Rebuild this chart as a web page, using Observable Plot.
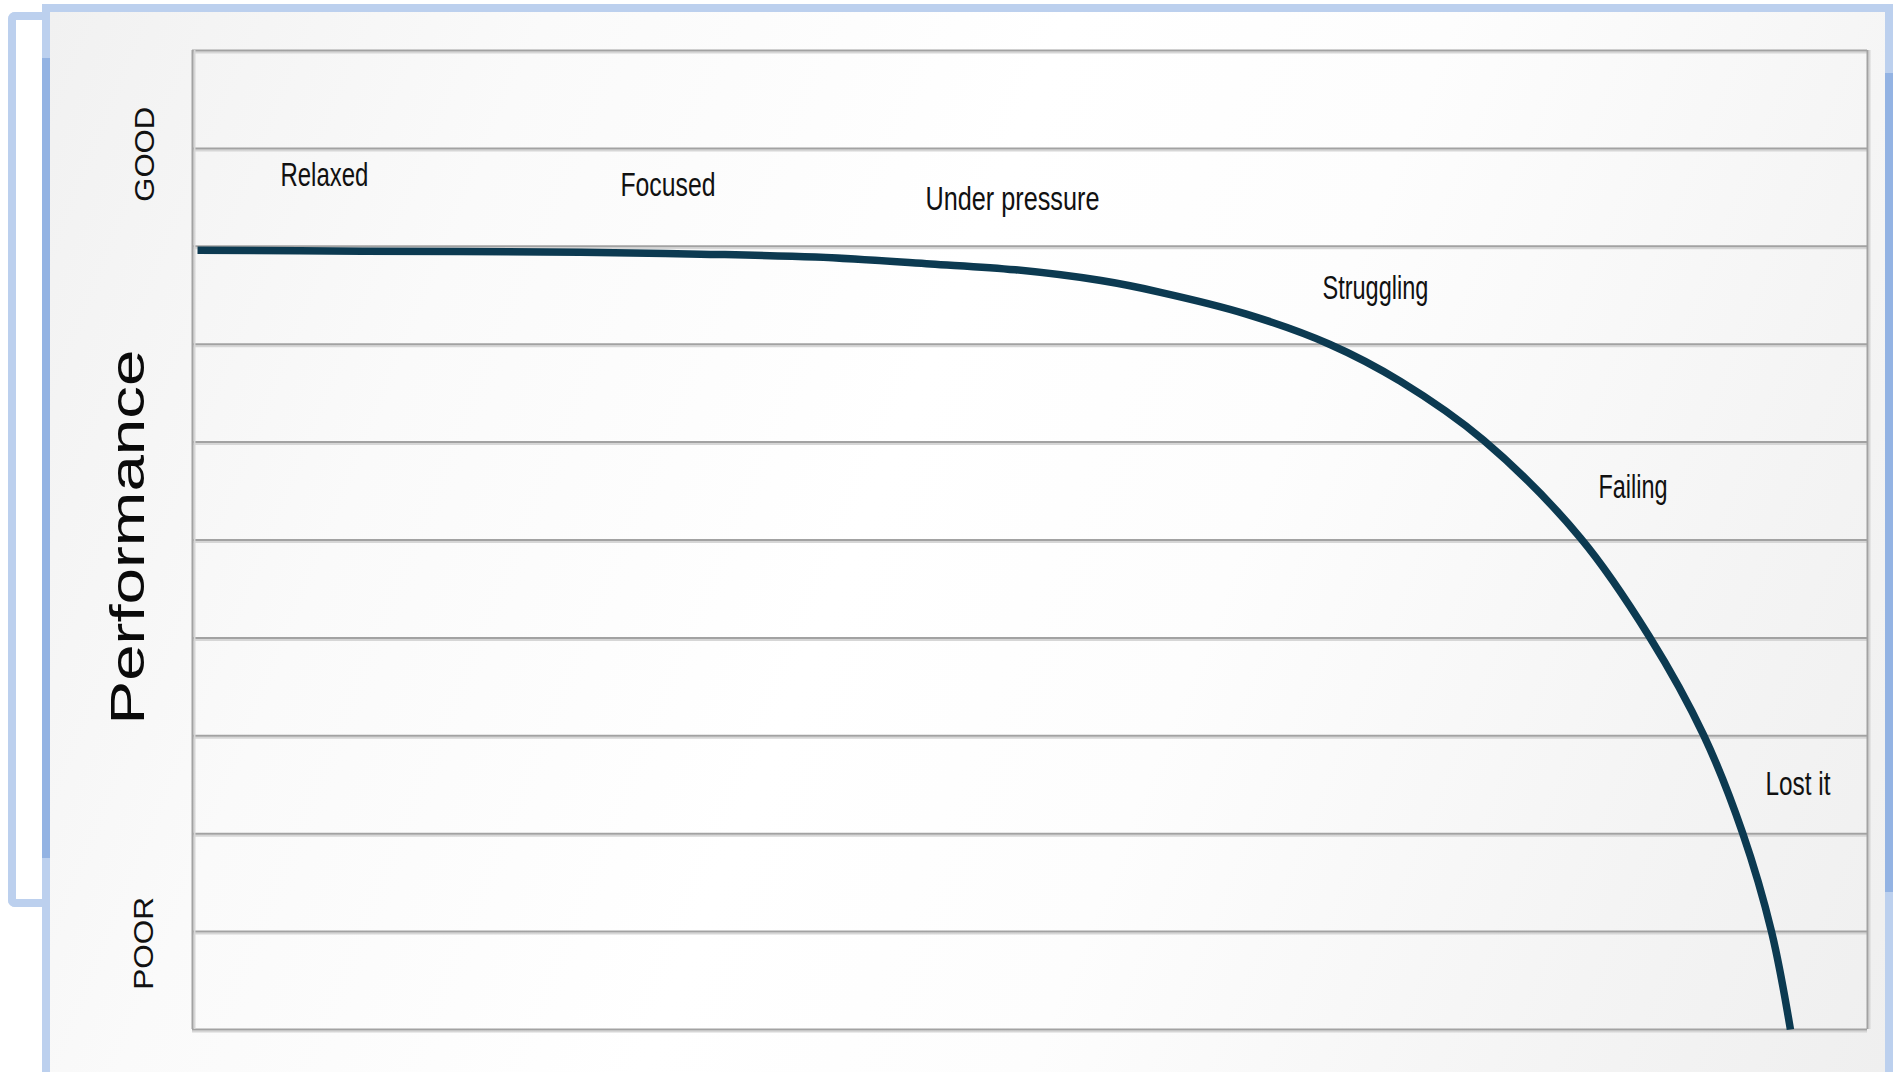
<!DOCTYPE html>
<html>
<head>
<meta charset="utf-8">
<script src="https://cdn.jsdelivr.net/npm/d3@7"></script>
<script src="https://cdn.jsdelivr.net/npm/@observablehq/plot@0.6"></script>
<style>
  html, body { margin: 0; padding: 0; background: #ffffff; width: 1894px; height: 1072px; overflow: hidden; }
  #stage { position: relative; width: 1894px; height: 1072px; overflow: hidden; }
  .side { position: absolute; left: 8px; top: 12px; width: 34px; height: 879px;
          border: 8px solid #bcd0ee; border-right: none; border-radius: 7px 0 0 7px; background: #ffffff; }
  .panel { position: absolute; left: 42px; top: 4px; width: 1835px; height: 1064px;
           border: 8px solid #bcd0ee;
           background: linear-gradient(112deg, #f1f1f1 0%, #fafafa 22%, #ffffff 45%, #fdfdfd 62%, #f4f4f4 85%, #efefef 100%); }
  .seg { position: absolute; width: 8px; background: #93b3e3; }
  #chart { position: absolute; left: 0; top: 0; }
</style>
</head>
<body>
<div id="stage">
  <div class="side"></div>
  <div class="panel"></div>
  <div class="seg" style="left:42px; top:58px; height:800px;"></div>
  <div class="seg" style="left:1885px; top:73px; height:819px;"></div>
  <div id="chart"></div>
</div>
<script>
// ---- data ----
const curveX = [0.30, 10.15, 23.16, 30.33, 37.19, 44.06, 49.13, 54.24, 57.79, 62.87, 67.88, 72.12, 77.07, 82.87, 86.99, 90.21, 92.54, 94.27, 95.40];
const curveY = [7.96, 7.95, 7.94, 7.92, 7.89, 7.82, 7.76, 7.65, 7.53, 7.31, 7.00, 6.62, 6.02, 5.02, 4.01, 3.01, 2.01, 1.00, 0.00];

const stageNames = ["Relaxed", "Focused", "Under pressure", "Struggling", "Failing", "Lost it"];
const stageX = [5.25, 25.55, 43.76, 67.46, 83.94, 93.91];
const stageY = [8.72, 8.62, 8.48, 7.57, 5.54, 2.50];

const gridValues = [0, 1, 2, 3, 4, 5, 6, 7, 8, 9, 10];
const frameX = [0, 100];

const axisTitle = ["Performance"];
const axisTitleX = [-3.82];
const axisTitleY = [5.03];

const endLabels = ["GOOD", "POOR"];
const endLabelX = [-2.81, -2.87];
const endLabelY = [8.94, 0.88];

// ---- styles ----
const textLengths = {
  "Relaxed": 88, "Focused": 95, "Under pressure": 174, "Struggling": 106,
  "Failing": 69, "Lost it": 65, "GOOD": 95, "POOR": 93, "Performance": 375
};
const fontFamily = "'Liberation Sans', Arial, sans-serif";

const curveData = curveX.map((x, i) => ({x, y: curveY[i]}));
const stages = stageNames.map((name, i) => ({name, x: stageX[i], y: stageY[i]}));
const ends = endLabels.map((name, i) => ({name, x: endLabelX[i], y: endLabelY[i]}));
const titles = axisTitle.map((name, i) => ({name, x: axisTitleX[i], y: axisTitleY[i]}));

const svg = Plot.plot({
  width: 1894,
  height: 1072,
  marginLeft: 192,
  marginRight: 27,
  marginTop: 50,
  marginBottom: 43,
  style: {background: "transparent", fontFamily},
  x: {domain: [0, 100], axis: null},
  y: {domain: [0, 10], axis: null},
  marks: [
    Plot.ruleY(gridValues, {y: d => d, x1: 0, x2: 100, stroke: "#d6d6d6", strokeWidth: 2, dy: 2}),
    Plot.ruleY(gridValues, {y: d => d, x1: 0, x2: 100, stroke: "#a2a2a2", strokeWidth: 2}),
    Plot.ruleX(frameX, {x: d => d, y1: 0, y2: 10, stroke: "#d6d6d6", strokeWidth: 2, dx: 2}),
    Plot.ruleX(frameX, {x: d => d, y1: 0, y2: 10, stroke: "#a2a2a2", strokeWidth: 2}),
    Plot.line(curveData, {x: "x", y: "y", curve: "catmull-rom", stroke: "#0c3a51", strokeWidth: 7.5, strokeLinecap: "butt"}),
    Plot.text(stages, {x: "x", y: "y", text: "name", textAnchor: "start", fontSize: 33, fill: "#111111", fontFamily}),
    Plot.text(ends, {x: "x", y: "y", text: "name", rotate: -90, fontSize: 28, fill: "#111111", fontFamily}),
    Plot.text(titles, {x: "x", y: "y", text: "name", rotate: -90, fontSize: 48, fill: "#0a0a0a", fontFamily})
  ]
});

d3.select(svg).selectAll("text").each(function () {
  const L = textLengths[this.textContent];
  if (L) {
    this.setAttribute("textLength", L);
    this.setAttribute("lengthAdjust", "spacingAndGlyphs");
  }
});

document.getElementById("chart").appendChild(svg);
</script>
</body>
</html>
